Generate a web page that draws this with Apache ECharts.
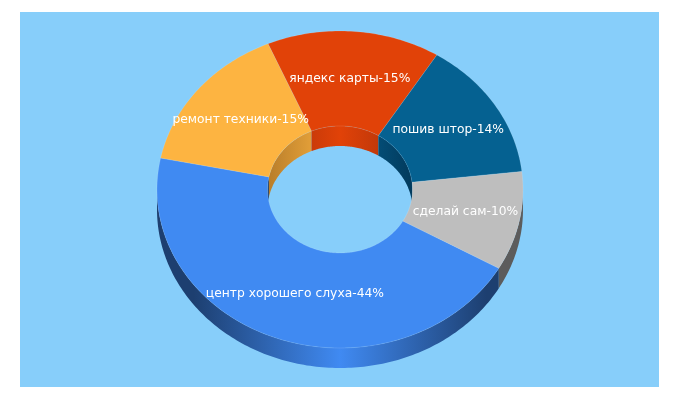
<!DOCTYPE html>
<html><head><meta charset="utf-8">
<style>html,body{margin:0;padding:0;background:#fff}#c{width:680px;height:400px}</style>
<script src="https://cdn.jsdelivr.net/npm/echarts@6/dist/echarts.min.js"></script>
</head><body><div id="c"></div>
<script>
const categories = ['центр хорошего слуха','ремонт техники','яндекс карты','пошив штор','сделай сам'];
const values = [44.9,15.4,15.3,14.3,10.1];
const percents = [44,15,15,14,10];
const topColors = ['#408af2','#fdb441','#e14208','#056191','#bebebe'];
const wallEdge = ['#1d3f70','#b87d2a','#a8300a','#023a5c','#5c5c5c'];

const cx=340, cy=189.5, rx=183, ry=158.5, irx=72.5, iry=63.5, depth=20;
const startDeg=29.8;
const total=values.reduce((a,b)=>a+b,0);
const rad=d=>d*Math.PI/180;
function range(i){
  let s=startDeg; for(let k=0;k<i;k++) s+=values[k]/total*360;
  return [s,s+values[i]/total*360];
}
function arc(a,b,rxx,ryy,dy){
  const pts=[],n=Math.max(2,Math.ceil(Math.abs(b-a)));
  for(let j=0;j<=n;j++){const t=rad(a+(b-a)*j/n);pts.push([cx+rxx*Math.cos(t),cy+dy+ryy*Math.sin(t)]);}
  return pts;
}
function grad(stops,x0,x1){return new echarts.graphic.LinearGradient(x0,0,x1,0,stops,true);}
const seriesData=values.map((v,i)=>({name:categories[i],value:v}));

function walls(p,api){
  const i=p.dataIndex,[a0,b0]=range(i),children=[];
  // outer front wall: the part of the slice lying in the lower half of the ellipse
  [[0,180],[360,540]].forEach(([l,h])=>{
    const a=Math.max(a0,l),b=Math.min(b0,h);
    if(b>a){
      const pts=arc(a,b,rx,ry,0).concat(arc(b,a,rx,ry,depth));
      let fill=wallEdge[i];
      if(i===0) fill=grad([{offset:0,color:wallEdge[0]},{offset:.1,color:wallEdge[0]},{offset:.5,color:topColors[0]},{offset:.9,color:wallEdge[0]},{offset:1,color:wallEdge[0]}],cx-rx,cx+rx);
      children.push({type:'polygon',shape:{points:pts},style:{fill}});
    }
  });
  return {type:'group',children};
}
function inner(p,api){
  const i=p.dataIndex,[a0,b0]=range(i),children=[];
  [[180,360]].forEach(([l,h])=>{
    const a=Math.max(a0,l),b=Math.min(b0,h);
    if(b>a){
      const pts=arc(a,b,irx,iry,0).concat(arc(b,a,irx,iry,depth));
      const fill=grad([{offset:0,color:wallEdge[i]},{offset:.5,color:topColors[i]},{offset:1,color:wallEdge[i]}],cx-irx,cx+irx);
      children.push({type:'polygon',shape:{points:pts},style:{fill}});
    }
  });
  return {type:'group',children};
}
function tops(p,api){
  const i=p.dataIndex,[a,b]=range(i);
  const pts=arc(a,b,rx,ry,0).concat(arc(b,a,irx,iry,0));
  return {type:'polygon',shape:{points:pts},style:{fill:topColors[i],stroke:'rgba(255,255,255,0.12)',lineWidth:1}};
}
function labels(p,api){
  const i=p.dataIndex,[a,b]=range(i),m=rad((a+b)/2),f=0.7;
  return {type:'text',style:{
    x:cx+rx*f*Math.cos(m),y:cy+ry*f*Math.sin(m),
    text:categories[i]+'-'+percents[i]+'%',
    fill:'#fff',font:'12.3px "DejaVu Sans"',align:'center',verticalAlign:'middle'}};
}
const chart=echarts.init(document.getElementById('c'),null,{renderer:'canvas'});
const layer=(fn,z)=>({type:'custom',coordinateSystem:'none',renderItem:fn,data:seriesData,z,silent:true,animation:false,clip:false});
chart.setOption({
  animation:false,
  backgroundColor:'#ffffff',
  graphic:[{type:'rect',z:0,shape:{x:20,y:12,width:639,height:375},style:{fill:'#87cefa'}}],
  series:[layer(walls,2),layer(inner,3),layer(tops,4),layer(labels,5)]
});
</script></body></html>
